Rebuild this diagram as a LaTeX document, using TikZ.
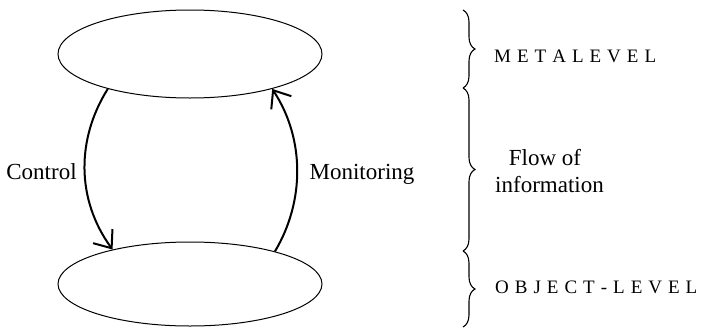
\documentclass[tikz,border=0pt]{standalone}
\usepackage{fontspec}
\setmainfont{Liberation Serif}
\newcommand\lsp{\kern6pt}
\usetikzlibrary{shapes.geometric,arrows.meta,decorations.pathreplacing}
\begin{document}
\begin{tikzpicture}[x=1pt,y=-1pt,
  level/.style={ellipse,draw,line width=1pt,inner sep=0pt,minimum width=264pt},
  flow/.style={line width=2pt,-{Straight Barb[length=15pt,width=24pt,line width=2pt]}},
  lbl/.style={font=\fontsize{23}{27}\selectfont,inner sep=0pt,anchor=base},
  caps/.style={font=\fontsize{19}{23}\selectfont,inner sep=0pt,anchor=base west},
  bracestyle/.style={line width=1.1pt,decorate,decoration={brace,amplitude=12pt}}]
\useasboundingbox (0,0) rectangle (702,327);
\node[level,minimum height=88pt] (meta) at (190,54) {};
\node[level,minimum height=84pt] (obj) at (190,284) {};
\draw[flow] (meta.203) .. controls +(-31.5,50) and +(-36.5,-50) .. (obj.156);
\draw[flow] (obj.21) .. controls +(29.8,-50) and +(32.8,50) .. (meta.337);
\node[lbl] (control) at (41.5,179) {Control};
\node[lbl] (monitoring) at (362,179) {Monitoring};
\node[lbl] (flowof) at (545,165) {Flow of};
\node[lbl] (information) at (549.5,192) {information};
\node[caps] (metalabel) at (494,62) {M\lsp E\lsp T\lsp A\lsp L\lsp E\lsp V\lsp E\lsp L};
\node[caps] (objlabel) at (495,293) {O\lsp B\lsp J\lsp E\lsp C\lsp T\lsp -\lsp L\lsp E\lsp V\lsp E\lsp L};
\coordinate (b0) at (463,10);
\coordinate (b1) at (463,88);
\coordinate (b2) at (463,251);
\coordinate (b3) at (463,327);
\draw[bracestyle] (b0) -- (b1);
\draw[bracestyle] (b1) -- (b2);
\draw[bracestyle] (b2) -- (b3);
\end{tikzpicture}
\end{document}
